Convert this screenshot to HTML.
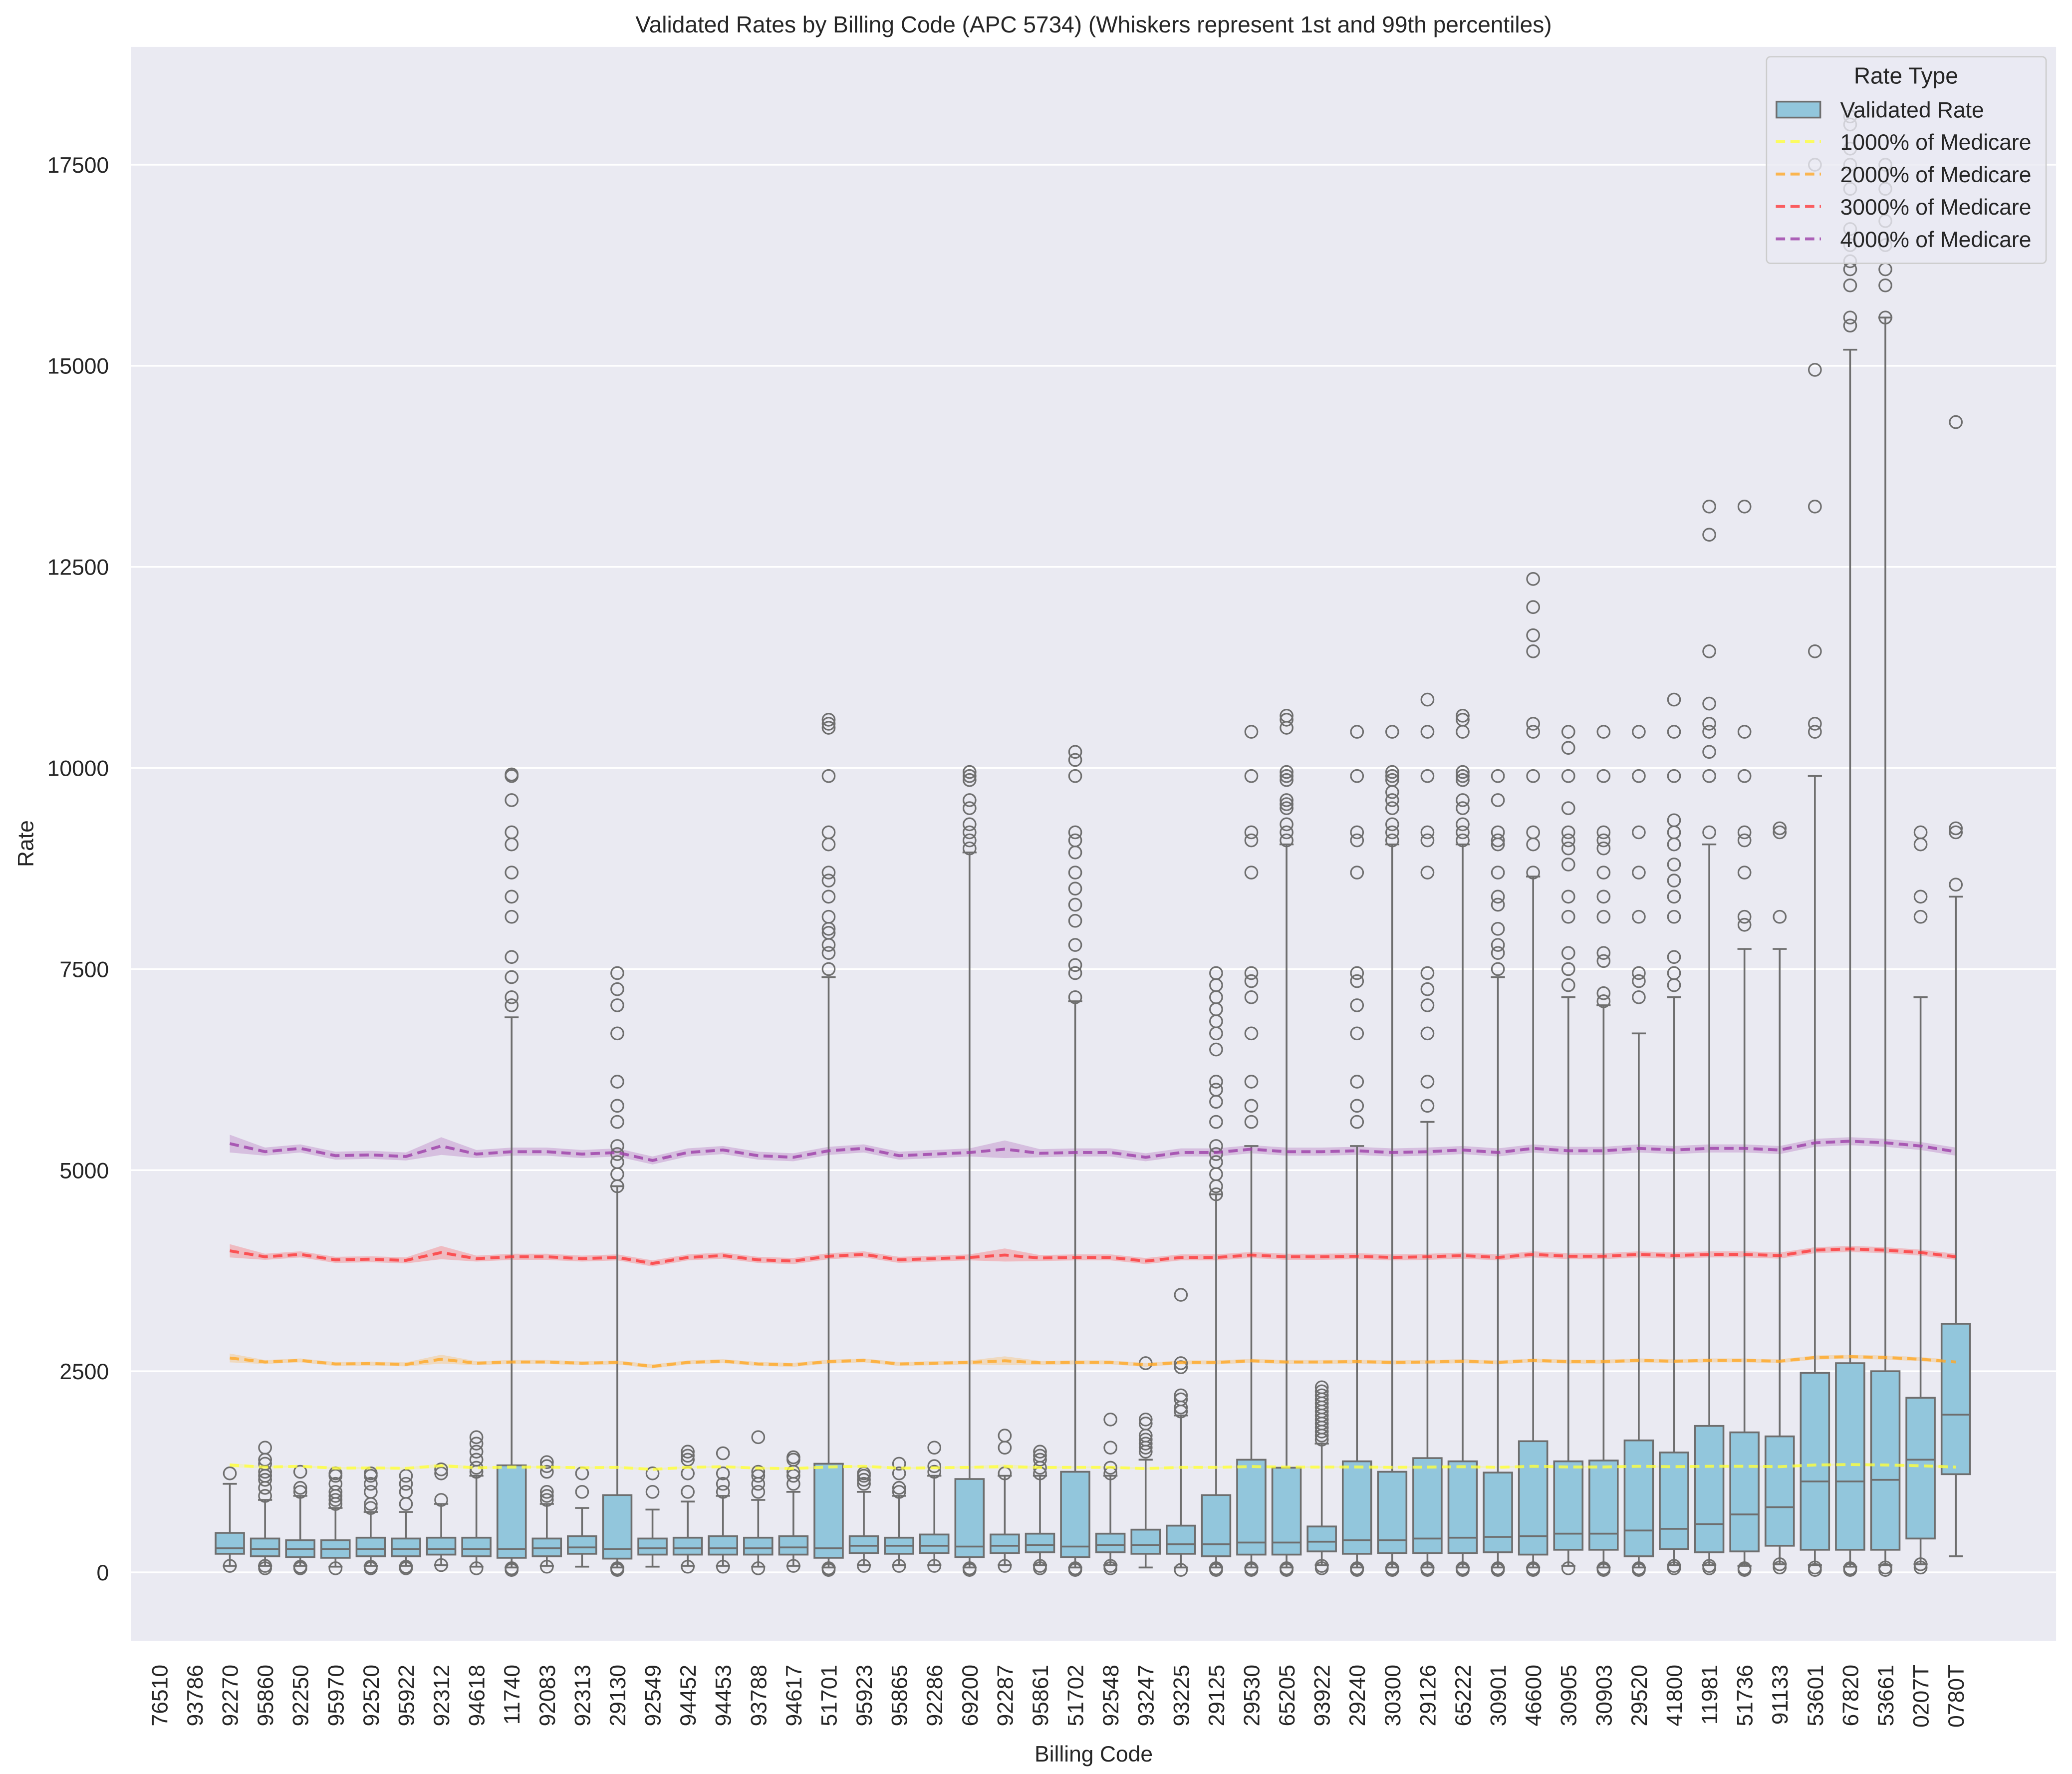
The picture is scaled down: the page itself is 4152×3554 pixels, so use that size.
<!DOCTYPE html>
<html><head><meta charset="utf-8"><style>
html,body{margin:0;padding:0;background:#fff;}
svg{display:block;}
text{font-family:"Liberation Sans",Arial,sans-serif;fill:#262626;}
</style></head><body>
<svg id="s" xmlns="http://www.w3.org/2000/svg" width="4152" height="3554" viewBox="0 0 1560 1335.3">
<rect x="0" y="0" width="1560" height="1335.3" fill="#fff"/>
<rect x="98.8" y="35.3" width="1449.2" height="1199.7" fill="#eaeaf2"/>
<g id="grid" stroke="#fff" stroke-width="1.3"></g>
<g id="bands"></g>
<g id="boxes"></g>
<g id="lines"></g>
<text x="823.4" y="24.4" font-size="17.3" text-anchor="middle">Validated Rates by Billing Code (APC 5734) (Whiskers represent 1st and 99th percentiles)</text>
<g font-size="16.7" text-anchor="end">
<text x="82" y="1189.5">0</text>
<text x="82" y="1038.1">2500</text>
<text x="82" y="886.8">5000</text>
<text x="82" y="735.4">7500</text>
<text x="82" y="584.1">10000</text>
<text x="82" y="432.7">12500</text>
<text x="82" y="281.3">15000</text>
<text x="82" y="130">17500</text>
</g>
<text transform="translate(25,635) rotate(-90)" font-size="16.7" text-anchor="middle">Rate</text>
<text x="823.4" y="1326" font-size="16.7" text-anchor="middle">Billing Code</text>
<g id="xl" font-size="16.7" text-anchor="end"></g>
<g id="legend">
<rect x="1330" y="42.7" width="210.5" height="155.5" rx="3" fill="#eaeaf2" fill-opacity="0.8" stroke="#cccccc" stroke-width="1"/>
<text x="1435" y="63" font-size="17.3" text-anchor="middle">Rate Type</text>
<rect x="1337.5" y="76.5" width="33" height="12" fill="#92c6dc" stroke="#6e6e6e" stroke-width="1.3"/>
<text x="1385.5" y="88.4" font-size="16.7">Validated Rate</text>
<line x1="1337" y1="106.6" x2="1371" y2="106.6" stroke="#ffff3c" stroke-opacity="0.8" stroke-width="2.2" stroke-dasharray="7,4"/>
<text x="1385.5" y="112.8" font-size="16.7">1000% of Medicare</text>
<line x1="1337" y1="131" x2="1371" y2="131" stroke="#ffa726" stroke-opacity="0.8" stroke-width="2.2" stroke-dasharray="7,4"/>
<text x="1385.5" y="137.2" font-size="16.7">2000% of Medicare</text>
<line x1="1337" y1="155.4" x2="1371" y2="155.4" stroke="#ff2e2e" stroke-opacity="0.75" stroke-width="2.2" stroke-dasharray="7,4"/>
<text x="1385.5" y="161.6" font-size="16.7">3000% of Medicare</text>
<line x1="1337" y1="179.8" x2="1371" y2="179.8" stroke="#9c3fa8" stroke-opacity="0.8" stroke-width="2.2" stroke-dasharray="7,4"/>
<text x="1385.5" y="186" font-size="16.7">4000% of Medicare</text>
</g>
</svg>
<script>
(function(){
var NS="http://www.w3.org/2000/svg";
function el(p,t,a){var e=document.createElementNS(NS,t);for(var k in a)e.setAttribute(k,a[k]);p.appendChild(e);return e;}
function Y(v){return 1183.5-v*0.060544;}
function X(i){return 120+i*26.52;}
var labels=["76510","93786","92270","95860","92250","95970","92520","95922","92312","94618","11740","92083","92313","29130","92549","94452","94453","93788","94617","51701","95923","95865","92286","69200","92287","95861","51702","92548","93247","93225","29125","29530","65205","93922","29240","30300","29126","65222","30901","46600","30905","30903","29520","41800","11981","51736","91133","53601","67820","53661","0207T","0780T"];
var g=document.getElementById("grid");
for(var v=0;v<=17500;v+=2500){el(g,"line",{x1:98.8,x2:1548,y1:Y(v),y2:Y(v)});}
var xl=document.getElementById("xl");
for(var i=0;i<labels.length;i++){var t=el(xl,"text",{transform:"translate("+(X(i)+6)+",1253) rotate(-90)"});t.textContent=labels[i];}
var D={
2:[230,300,490,80,1100,[1230,80]],
3:[200,290,420,80,900,[950,1050,1150,1200,1250,1350,1400,1550,50,80]],
4:[190,290,400,80,950,[1000,1050,1250,50,70]],
5:[180,290,400,70,800,[850,900,950,1000,1100,1200,1230,50]],
6:[200,290,430,80,750,[800,850,1000,1100,1200,1230,70,50]],
7:[200,290,420,80,750,[850,1000,1100,1200,70,50]],
8:[220,290,430,90,850,[900,1230,1280,90]],
9:[200,290,430,70,1200,[1250,1300,1400,1500,1600,1680,50]],
10:[180,290,1330,60,6900,[7050,7150,7400,7650,8150,8400,8700,9050,9200,9600,9900,9920,30,50]],
11:[200,300,420,80,850,[900,950,1000,1250,1320,1370,70]],
12:[230,310,450,70,800,[1000,1230]],
13:[170,290,960,60,4800,[4800,4950,5100,5200,5300,5600,5800,6100,6700,7050,7250,7450,30,50]],
14:[220,300,420,70,780,[1000,1230]],
15:[220,300,430,80,880,[1000,1230,1400,1450,1500,70]],
16:[220,300,450,80,950,[1000,1100,1230,1480,70]],
17:[220,300,430,70,900,[1000,1100,1200,1250,1680,50]],
18:[220,310,450,80,1000,[1100,1200,1250,1400,1430,80]],
19:[180,300,1350,60,7400,[7500,7700,7800,7950,8000,8150,8400,8600,8700,9050,9200,9900,10500,10550,10600,30,50]],
20:[240,330,450,90,1000,[1100,1150,1200,1230,80]],
21:[230,330,430,90,950,[1000,1050,1230,1350,80]],
22:[240,330,470,90,1200,[1250,1320,1550,80]],
23:[190,320,1160,60,8950,[9000,9100,9200,9300,9500,9600,9850,9900,9950,30,50]],
24:[240,330,470,90,1200,[1230,1550,1700,80]],
25:[250,340,480,90,1200,[1230,1300,1400,1450,1500,50,80]],
26:[190,320,1250,60,7100,[7150,7450,7550,7800,8100,8300,8500,8700,8950,9100,9200,9900,10100,10200,30,50]],
27:[250,340,480,90,1200,[1230,1300,1550,1900,50,80]],
28:[230,340,530,60,1400,[1500,1550,1600,1650,1700,1850,1900,2600]],
29:[230,350,580,60,1950,[2000,2050,2150,2200,2550,2600,3450,30]],
30:[200,350,960,60,4700,[4700,4800,4950,5100,5200,5300,5600,5850,6000,6100,6500,6700,6850,7000,7150,7300,7450,30,50]],
31:[220,370,1400,60,5300,[5600,5800,6100,6700,7150,7350,7450,8700,9100,9200,9900,10450,30,50]],
32:[220,370,1300,60,9050,[9100,9200,9300,9500,9550,9600,9850,9900,9950,10500,10600,10650,30,50]],
33:[260,380,570,90,1600,[1650,1700,1750,1800,1850,1900,1950,2000,2050,2100,2150,2200,2250,2300,50,80]],
34:[230,400,1380,60,5300,[5600,5800,6100,6700,7050,7350,7450,8700,9100,9200,9900,10450,30,50]],
35:[240,400,1250,60,9050,[9100,9200,9300,9500,9600,9700,9850,9900,9950,10450,30,50]],
36:[240,420,1420,60,5600,[5800,6100,6700,7050,7250,7450,8700,9100,9200,9900,10450,10850,30,50]],
37:[240,430,1380,60,9050,[9100,9200,9300,9500,9600,9850,9900,9950,10450,10600,10650,30,50]],
38:[250,440,1240,60,7400,[7500,7700,7800,8000,8300,8400,8700,9050,9100,9200,9600,9900,30,50]],
39:[220,450,1630,60,8650,[8700,9050,9200,9900,10450,10550,11450,11650,12000,12350,30,50]],
40:[280,480,1380,80,7150,[7300,7500,7700,8150,8400,8800,9000,9100,9200,9500,9900,10250,10450,50]],
41:[280,480,1390,60,7050,[7100,7200,7600,7700,8150,8400,8700,9000,9100,9200,9900,10450,30,50]],
42:[200,520,1640,60,6700,[7150,7350,7450,8150,8700,9200,9900,10450,30,50]],
43:[290,540,1490,90,7150,[7300,7450,7650,8150,8400,8600,8800,9050,9200,9350,9900,10450,10850,50,80]],
44:[250,600,1820,90,9050,[9200,9900,10200,10450,10550,10800,11450,12900,13250,50,80]],
45:[260,720,1740,80,7750,[8050,8150,8700,9100,9200,9900,10450,13250,30,50]],
46:[330,810,1690,100,7750,[8150,9200,9250,60,100]],
47:[280,1130,2480,90,9900,[10450,10550,11450,13250,14950,17500,30,60]],
48:[280,1130,2600,70,15200,[15500,15600,16000,16200,16300,16500,16700,17200,17500,17700,18000,18100,30,50]],
49:[280,1150,2500,90,15600,[15600,16000,16200,16500,16800,17200,17500,30,60]],
50:[420,1400,2170,100,7150,[8150,8400,9050,9200,60,100]],
51:[1220,1960,3090,200,8400,[8550,9200,9250,14300]]
};
var B=document.getElementById("boxes");var c="#6e6e6e";var hw=10.7;var sw=1.35;
for(var k in D){var d=D[k],x=X(+k);
el(B,"line",{x1:x,x2:x,y1:Y(d[2]),y2:Y(d[4]),stroke:c,"stroke-width":sw});
el(B,"line",{x1:x,x2:x,y1:Y(d[0]),y2:Y(d[3]),stroke:c,"stroke-width":sw});
el(B,"line",{x1:x-5.3,x2:x+5.3,y1:Y(d[4]),y2:Y(d[4]),stroke:c,"stroke-width":sw});
el(B,"line",{x1:x-5.3,x2:x+5.3,y1:Y(d[3]),y2:Y(d[3]),stroke:c,"stroke-width":sw});
el(B,"rect",{x:x-hw,y:Y(d[2]),width:2*hw,height:Y(d[0])-Y(d[2]),fill:"#92c6dc",stroke:c,"stroke-width":sw});
el(B,"line",{x1:x-hw,x2:x+hw,y1:Y(d[1]),y2:Y(d[1]),stroke:c,"stroke-width":sw});
d[5].forEach(function(o){el(B,"circle",{cx:x,cy:Y(o),r:4.6,fill:"none",stroke:c,"stroke-width":1.2});});
}
var M=[0,0,5330,5230,5270,5180,5190,5170,5300,5200,5230,5230,5200,5220,5120,5220,5250,5180,5160,5240,5270,5180,5200,5220,5260,5210,5220,5220,5160,5220,5220,5260,5230,5230,5240,5220,5230,5250,5220,5270,5240,5240,5270,5250,5270,5270,5250,5340,5360,5340,5300,5230];
var series=[[0.25,"#ffff3c",0.8],[0.5,"#ffa726",0.8],[0.75,"#ff2e2e",0.75],[1,"#9c3fa8",0.8]];
var Bd=document.getElementById("bands"),L=document.getElementById("lines");
series.forEach(function(s){
var up=[],lo=[],ln=[];
for(var i=2;i<52;i++){var v=M[i]*s[0];var e=(i==2||i==8||i==24)?110*s[0]:50*s[0];
up.push(X(i).toFixed(1)+","+Y(v+e).toFixed(1));lo.unshift(X(i).toFixed(1)+","+Y(v-e).toFixed(1));ln.push(X(i).toFixed(1)+","+Y(v).toFixed(1));}
el(Bd,"polygon",{points:up.concat(lo).join(" "),fill:s[1],"fill-opacity":0.25,stroke:"none"});
el(L,"polyline",{points:ln.join(" "),fill:"none",stroke:s[1],"stroke-opacity":s[2],"stroke-width":2.2,"stroke-dasharray":"7,4"});
});
})();
</script>
</body></html>
